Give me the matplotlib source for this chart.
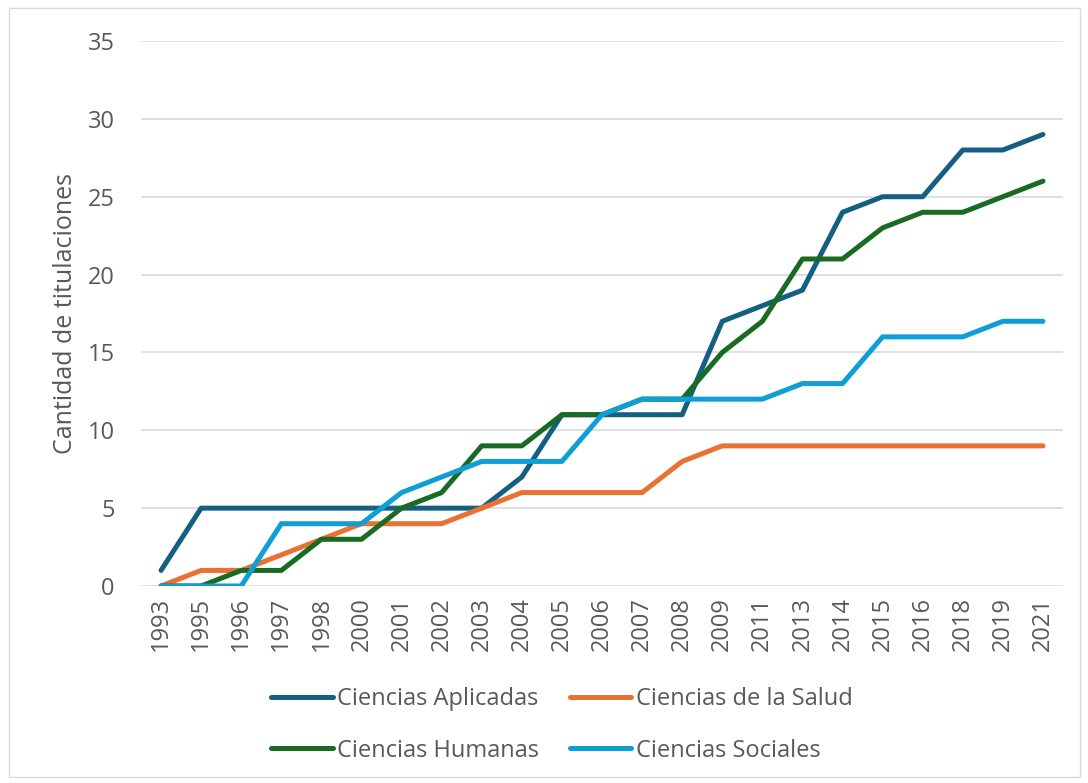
import matplotlib
matplotlib.use("Agg")
import matplotlib.pyplot as plt
from matplotlib.patches import Rectangle

years = ["1993", "1995", "1996", "1997", "1998", "2000", "2001", "2002", "2003", "2004",
         "2005", "2006", "2007", "2008", "2009", "2011", "2013", "2014", "2015", "2016",
         "2018", "2019", "2021"]
aplicadas = [1, 5, 5, 5, 5, 5, 5, 5, 5, 7, 11, 11, 11, 11, 17, 18, 19, 24, 25, 25, 28, 28, 29]
salud = [0, 1, 1, 2, 3, 4, 4, 4, 5, 6, 6, 6, 6, 8, 9, 9, 9, 9, 9, 9, 9, 9, 9]
humanas = [0, 0, 1, 1, 3, 3, 5, 6, 9, 9, 11, 11, 12, 12, 15, 17, 21, 21, 23, 24, 24, 25, 26]
sociales = [0, 0, 0, 4, 4, 4, 6, 7, 8, 8, 8, 11, 12, 12, 12, 12, 13, 13, 16, 16, 16, 17, 17]

series_names = ["Ciencias Aplicadas", "Ciencias de la Salud", "Ciencias Humanas", "Ciencias Sociales"]
colors = ["#156082", "#E97132", "#196B24", "#0F9ED5"]

plt.rcParams['font.family'] = ['Open Sans', 'DejaVu Sans']
txt = "#595959"
W, H = 1088, 783
fig = plt.figure(figsize=(W / 100, H / 100), dpi=100)
fig.patches.append(Rectangle((9 / W, 6 / H), 1071 / W, 769 / H, transform=fig.transFigure,
                             fill=False, edgecolor="#D9D9D9", linewidth=1.0))

ax = fig.add_axes([141 / W, 1 - 586 / H, (1063 - 141) / W, (586 - 41) / H])
x = list(range(len(years)))
lines = []
for vals, name, c in zip([aplicadas, salud, humanas, sociales], series_names, colors):
    ln, = ax.plot(x, vals, color=c, linewidth=3.6, label=name, solid_capstyle="round",
                  solid_joinstyle="round")
    lines.append(ln)

ax.set_xlim(-0.5, len(years) - 0.5)
ax.set_ylim(0, 35)
ax.set_yticks(range(0, 36, 5))
ax.set_xticks(x)
ax.set_xticklabels(years, rotation=90)
ax.grid(axis="y", color="#D9D9D9", linewidth=1.2)
ax.set_axisbelow(True)
for s in ax.spines.values():
    s.set_visible(False)
ax.tick_params(axis="both", length=0, labelsize=17, labelcolor=txt)
ax.tick_params(axis="y", pad=19)
ax.tick_params(axis="x", pad=8)
ax.set_ylabel("Cantidad de titulaciones", fontsize=18, color=txt, labelpad=7)

order = [0, 2, 1, 3]
fig.legend([lines[i] for i in order], [series_names[i] for i in order],
           loc="center", bbox_to_anchor=(562 / W, 1 - 725 / H), ncol=2, frameon=False,
           fontsize=17, handlelength=2.6, handletextpad=0.2, columnspacing=1.3,
           labelspacing=1.15, labelcolor=txt)

fig.savefig("out.png", dpi=100)
